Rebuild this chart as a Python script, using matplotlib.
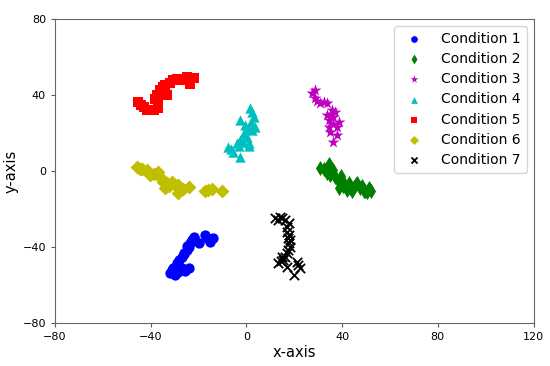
import matplotlib
matplotlib.use('Agg')
import matplotlib.pyplot as plt

# points, one list per condition
c1_x = [-31.9, -29.8, -30.5, -28.5, -27.0, -25.5, -24.2, -29.1, -28.0, -27.0, -26.0, -24.9, -24.0, -23.5,
        -22.8, -22.1, -21.5, -20.0, -17.2, -16.5, -15.1, -13.8, -26.0, -22.8, -31.0, -25.0]
c1_y = [-53.8, -54.7, -51.2, -53.0, -51.2, -52.5, -51.2, -48.6, -47.0, -45.1, -43.5, -41.6, -40.0, -38.0,
        -36.5, -34.6, -36.0, -38.0, -33.7, -35.0, -37.2, -35.4, -43.0, -36.5, -52.0, -39.5]

c2_x = [30.9, 32.5, 34.4, 33.7, 35.0, 36.4, 37.2, 38.5, 40.0, 38.5, 41.0, 42.7, 43.5, 44.8, 46.0,
        47.6, 49.0, 51.1, 52.0, 42.0, 46.2, 40.5, 49.5, 36.0, 39.5, 44.0, 48.5, 50.5]
c2_y = [1.4, 1.0, 4.0, -1.2, -2.0, 0.5, -3.0, -5.5, -4.7, -9.1, -7.5, -6.5, -9.0, -8.3, -7.0,
        -9.1, -10.5, -9.1, -10.5, -10.0, -6.5, -8.0, -10.5, -1.0, -2.5, -10.5, -8.0, -11.0]

c3_x = [28.8, 28.8, 29.5, 30.9, 32.5, 33.7, 35.8, 33.7, 36.4, 38.5, 34.4, 35.0, 37.9, 36.4,
        27.4, 37.0, 36.0, 38.0, 35.5, 34.5]
c3_y = [42.6, 38.3, 37.0, 35.6, 36.5, 35.6, 32.0, 29.5, 28.6, 26.0, 23.3, 20.7, 19.0, 15.4,
        40.9, 31.0, 25.0, 23.0, 30.0, 27.0]

c4_x = [2.3, 3.0, 2.0, -2.6, -0.5, 0.5, 2.3, 3.5, -1.2, -2.6, 0.9, -7.5, -6.5, -5.4, -2.6, -4.0, 0.2,
        1.5, -3.0, -1.5, 1.0]
c4_y = [31.2, 28.6, 26.0, 26.8, 24.2, 22.5, 21.6, 23.0, 19.8, 16.3, 14.6, 12.8, 11.5, 10.2, 7.5, 14.6, 18.0,
        33.0, 13.0, 15.5, 13.0]

c5_x = [-45.3, -44.0, -43.0, -41.5, -40.3, -38.5, -36.8, -36.8, -37.5, -38.0, -36.0, -35.0, -34.0, -32.0,
        -30.5, -29.0, -27.7, -26.0, -24.9, -22.0, -23.5, -33.0, -39.0, -37.0]
c5_y = [36.5, 35.0, 33.5, 32.0, 32.0, 32.0, 33.0, 36.5, 40.0, 38.0, 42.6, 44.0, 45.3, 46.5,
        48.0, 48.5, 48.0, 48.5, 49.6, 48.8, 46.0, 40.0, 32.0, 35.0]

c6_x = [-45.8, -44.5, -43.5, -41.6, -40.3, -38.5, -36.8, -35.5, -34.7, -33.0, -31.2, -34.0, -32.5, -30.0,
        -28.4, -28.4, -26.5, -24.2, -15.9, -14.5, -10.3, -17.2]
c6_y = [2.3, 1.0, 1.0, 0.5, -2.1, -1.5, -0.4, -3.5, -5.6, -6.5, -5.6, -9.1, -8.0, -7.5,
        -7.4, -11.7, -9.5, -8.3, -10.0, -9.5, -10.5, -10.5]

c7_x = [12.0, 13.0, 14.1, 15.0, 16.2, 17.6, 17.0, 16.9, 17.8, 18.3, 18.0, 18.3, 17.5, 16.9, 16.0,
        15.5, 13.4, 14.5, 16.9, 21.1, 22.5, 19.7, 17.5, 15.0, 21.5]
c7_y = [-24.9, -25.5, -24.0, -24.5, -25.8, -27.5, -29.5, -31.9, -33.5, -36.3, -38.0, -39.8, -41.5, -43.3, -45.0,
        -46.8, -48.6, -47.5, -50.4, -47.7, -51.2, -54.7, -35.0, -45.0, -49.5]

labels = ['Condition 1', 'Condition 2', 'Condition 3', 'Condition 4',
          'Condition 5', 'Condition 6', 'Condition 7']
styles = [('b', 'o'), ('g', 'd'), ('m', '*'), ('c', '^'), ('r', 's'), ('y', 'D'), ('k', 'x')]
sizes = [55, 60, 80, 55, 50, 50, 45]

series = [(c1_x, c1_y), (c2_x, c2_y), (c3_x, c3_y), (c4_x, c4_y),
          (c5_x, c5_y), (c6_x, c6_y), (c7_x, c7_y)]

fig = plt.figure(figsize=(5.5, 3.66), dpi=100)
ax = fig.add_axes([0.1, 0.117, 0.87, 0.831])

for (xs, ys), (col, mk), lab, sz in zip(series, styles, labels, sizes):
    ax.scatter(xs, ys, c=col, marker=mk, s=sz, label=lab,
               linewidths=1.3 if mk == 'x' else 0)

ax.set_xlim(-80, 120)
ax.set_ylim(-80, 80)
ax.set_xticks([-80, -40, 0, 40, 80, 120])
ax.set_yticks([-80, -40, 0, 40, 80])
ax.tick_params(labelsize=8, length=3, color='0.35')
for sp in ax.spines.values():
    sp.set_color('0.4')
ax.set_xlabel('x-axis', fontsize=10.5, labelpad=2)
ax.set_ylabel('y-axis', fontsize=10.5, labelpad=3)

leg = ax.legend(loc='upper right', fontsize=10, scatterpoints=1, markerscale=0.65,
                borderaxespad=0.5, handletextpad=1.0, labelspacing=0.45)

fig.savefig('out.png', dpi=100)
